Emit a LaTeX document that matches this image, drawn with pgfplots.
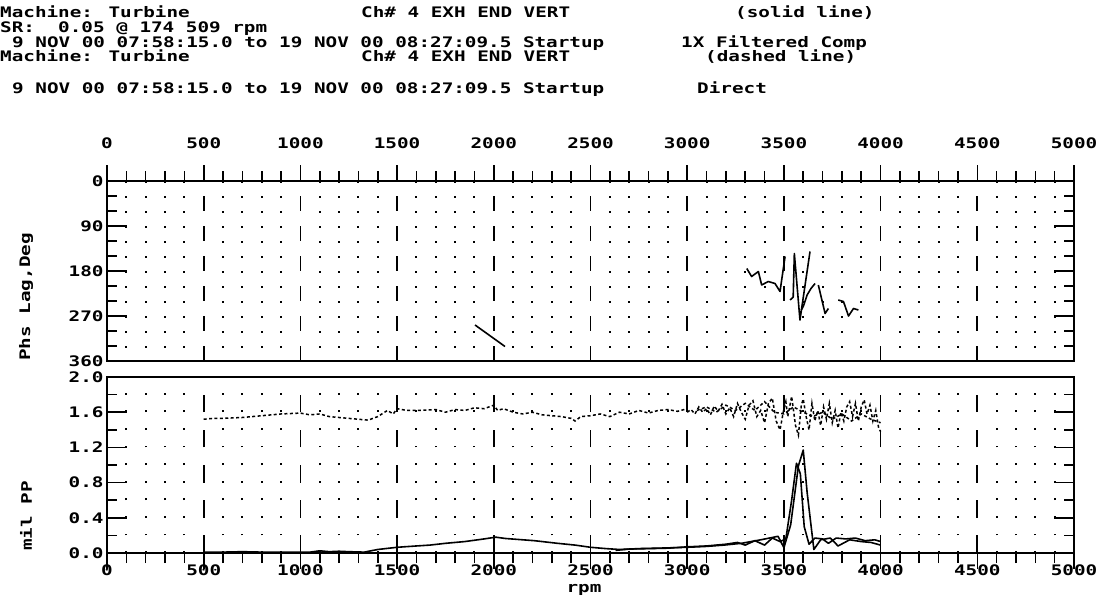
\documentclass[border=0pt]{standalone}
\usepackage{fontspec}
\setmainfont{DejaVu Sans Mono}[FakeStretch=1.33]
\usepackage{pgfplots}
\pgfplotsset{compat=1.18}
\newcommand\pf{\fontsize{14.5bp}{16bp}\selectfont\bfseries}

\pgfplotsset{
  base/.style={
    scale only axis, width=967bp, xmin=0, xmax=5000,
    axis line style={line width=1.7bp},
    every tick/.style={line width=1.6bp, black},
    tick label style={font=\pf},
    /pgf/number format/assume math mode=true,
    /pgf/number format/1000 sep={},
  },
  solid/.style={black, line width=1.6bp, line join=round},
  dash/.style={black, line width=1.5bp, dash pattern=on 3bp off 2.4bp},
}

\begin{document}
\begin{tikzpicture}
\path[use as bounding box] (0,0) rectangle (1104bp,-609bp);

% header
\begin{scope}[every node/.style={anchor=base west, inner sep=0pt, font=\pf}]
\node at (0bp,-17bp) {Machine: Turbine};
\node at (361bp,-17bp) {Ch\# 4 EXH END VERT};
\node at (735bp,-17bp) {(solid line)};
\node at (0bp,-32bp) {SR:\ \ 0.05 @ 174 509 rpm};
\node at (12bp,-47bp) {9 NOV 00 07:58:15.0 to 19 NOV 00 08:27:09.5 Startup};
\node at (681bp,-47bp) {1X Filtered Comp};
\node at (0bp,-61bp) {Machine: Turbine};
\node at (361bp,-61bp) {Ch\# 4 EXH END VERT};
\node at (705bp,-61bp) {(dashed line)};
\node at (12bp,-93bp) {9 NOV 00 07:58:15.0 to 19 NOV 00 08:27:09.5 Startup};
\node at (697bp,-93bp) {Direct};
\end{scope}

\node[rotate=90, font=\pf] at (26bp,-297bp) {Phs Lag,Deg};
\node[rotate=90, font=\pf] at (26bp,-516bp) {mil PP};
\node[font=\pf, anchor=base, inner sep=0pt] at (584bp,-592bp) {rpm};

% ---- phase plot, grid and x ticks
\begin{axis}[base, at={(107bp,-361bp)}, anchor=south west, height=180bp,
  ymin=0, ymax=360, y dir=reverse,
  tick align=outside, xtick={0,500,...,5000}, minor x tick num=4,
  xtick pos=top, xticklabel pos=top, ytick=\empty,
  major tick length=16bp, minor tick length=10bp,
  xticklabel shift=13bp,
  xmajorgrids, xminorgrids,
  major grid style={black, line width=1.7bp, dash pattern=on 15bp off 15bp, dash phase=15bp},
  minor grid style={black, line width=2bp, dash pattern=on 1.8bp off 13.2bp},
  ]
\addplot[solid] coordinates {(1903,288) (2058,331)};
\addplot[solid] coordinates {(3308,175) (3333,191) (3368,181) (3385,208) (3419,201)
  (3454,205) (3480,221) (3506,151)};
\addplot[solid] coordinates {(3532,238) (3548,232) (3554,145) (3583,278) (3635,141)};
\addplot[solid] coordinates {(3590,258) (3601,250) (3620,228) (3640,215) (3661,205)};
\addplot[solid] coordinates {(3678,208) (3713,265) (3730,255)};
\addplot[solid] coordinates {(3781,238) (3808,241) (3834,270) (3860,255) (3885,258)};
\end{axis}
% ---- phase plot, y ticks
\begin{axis}[base, at={(107bp,-361bp)}, anchor=south west, height=180bp,
  ymin=0, ymax=360, y dir=reverse,
  tick align=inside, xtick=\empty,
  ytick={0,90,180,270,360}, minor y tick num=2,
  ytick pos=both, yticklabel pos=left,
  major tick length=20bp, minor tick length=10bp,
  ]
\end{axis}

% ---- amplitude plot, grid and x ticks
\begin{axis}[base, at={(107bp,-553bp)}, anchor=south west, height=176bp,
  ymin=0, ymax=2,
  tick align=outside, xtick={0,500,...,5000}, minor x tick num=4,
  xtick pos=bottom, xticklabel pos=bottom, ytick=\empty,
  major tick length=16bp, minor tick length=10bp,
  xticklabel shift=-8bp,
  xmajorgrids, xminorgrids,
  major grid style={black, line width=1.7bp, dash pattern=on 17.6bp off 17.6bp},
  minor grid style={black, line width=2bp, dash pattern=on 1.8bp off 15.8bp},
  ]
% direct (dashed)
\addplot[dash] coordinates {
  (500,1.52) (550,1.53) (600,1.53) (700,1.54) (800,1.56) (900,1.58) (1000,1.59)
  (1050,1.57) (1100,1.58) (1150,1.55) (1200,1.54) (1300,1.52) (1350,1.51)
  (1400,1.55) (1450,1.62) (1480,1.58) (1500,1.64) (1550,1.62) (1600,1.62)
  (1700,1.63) (1750,1.60) (1800,1.63) (1850,1.62) (1900,1.65) (1950,1.64)
  (2000,1.68) (2020,1.62) (2050,1.64) (2100,1.60) (2150,1.58) (2200,1.60)
  (2250,1.57) (2300,1.56) (2350,1.55) (2400,1.53) (2420,1.50) (2450,1.55)
  (2500,1.56) (2550,1.58) (2600,1.55) (2650,1.60) (2700,1.58) (2750,1.62)
  (2800,1.59) (2850,1.62) (2900,1.63) (2950,1.61) (3000,1.64)};
\addplot[dash] coordinates {
  (3000,1.60) (3020,1.63) (3040,1.58) (3060,1.66) (3080,1.60) (3100,1.64)
  (3120,1.57) (3140,1.67) (3160,1.61) (3180,1.69) (3200,1.58) (3220,1.65)
  (3240,1.55) (3260,1.70) (3280,1.60) (3300,1.52) (3320,1.68) (3340,1.73)
  (3360,1.55) (3380,1.62) (3400,1.48) (3420,1.70) (3440,1.76) (3460,1.50)
  (3480,1.40) (3500,1.64) (3510,1.72) (3520,1.55) (3540,1.78) (3560,1.45)
  (3575,1.34) (3590,1.68) (3600,1.75) (3615,1.55) (3630,1.40) (3645,1.70)
  (3660,1.50) (3675,1.62) (3690,1.45) (3705,1.66) (3720,1.52) (3735,1.70)
  (3750,1.48) (3765,1.62) (3780,1.42) (3795,1.60) (3810,1.50) (3825,1.66)
  (3840,1.72) (3855,1.55) (3870,1.70) (3885,1.50) (3900,1.66) (3915,1.74)
  (3930,1.58) (3945,1.68) (3960,1.50) (3975,1.62) (3990,1.42) (4000,1.38)};
\addplot[dash] coordinates {
  (3050,1.62) (3100,1.66) (3150,1.60) (3200,1.68) (3250,1.62) (3300,1.70)
  (3350,1.62) (3400,1.72) (3450,1.60) (3500,1.58) (3550,1.66) (3600,1.60)
  (3650,1.55) (3700,1.60) (3750,1.52) (3800,1.58) (3850,1.50) (3900,1.58)
  (3950,1.52) (4000,1.48)};
% 1X filtered (solid)
\addplot[solid] coordinates {
  (500,0.01) (600,0.01) (700,0.015) (800,0.01) (900,0.01) (1000,0.01) (1050,0.01)
  (1100,0.025) (1150,0.015) (1200,0.02) (1250,0.015) (1330,0.01) (1400,0.04)
  (1500,0.065) (1600,0.08) (1670,0.09) (1750,0.11) (1850,0.13) (1950,0.16)
  (2010,0.18) (2060,0.165) (2150,0.15) (2210,0.14) (2330,0.11) (2420,0.09)
  (2500,0.065) (2580,0.05) (2650,0.04) (2750,0.05) (2850,0.055) (3000,0.065)
  (3100,0.075) (3190,0.09) (3280,0.11) (3380,0.15) (3470,0.19) (3500,0.06)
  (3535,0.32) (3575,0.99) (3600,1.17) (3620,0.69) (3655,0.04) (3690,0.15)
  (3740,0.17) (3780,0.08) (3840,0.15) (3900,0.13) (3950,0.12) (4000,0.09)};
\addplot[solid] coordinates {
  (2630,0.03) (2700,0.045) (2800,0.05) (2900,0.055) (3000,0.07) (3100,0.08)
  (3200,0.10) (3260,0.12) (3300,0.09) (3350,0.14) (3400,0.09) (3440,0.17)
  (3480,0.13) (3510,0.16) (3540,0.60) (3565,1.02) (3585,0.90) (3605,0.30)
  (3630,0.10) (3660,0.17) (3700,0.16) (3730,0.11) (3770,0.17) (3820,0.16)
  (3870,0.17) (3920,0.14) (3970,0.15) (4000,0.13)};
\end{axis}
% ---- amplitude plot, y ticks
\begin{axis}[base, at={(107bp,-553bp)}, anchor=south west, height=176bp,
  ymin=0, ymax=2,
  tick align=inside, xtick=\empty,
  ytick={0,0.4,0.8,1.2,1.6,2}, yticklabels={0.0,0.4,0.8,1.2,1.6,2.0},
  minor y tick num=1,
  ytick pos=both, yticklabel pos=left,
  major tick length=20bp, minor tick length=10bp,
  ]
\end{axis}
\end{tikzpicture}
\end{document}
